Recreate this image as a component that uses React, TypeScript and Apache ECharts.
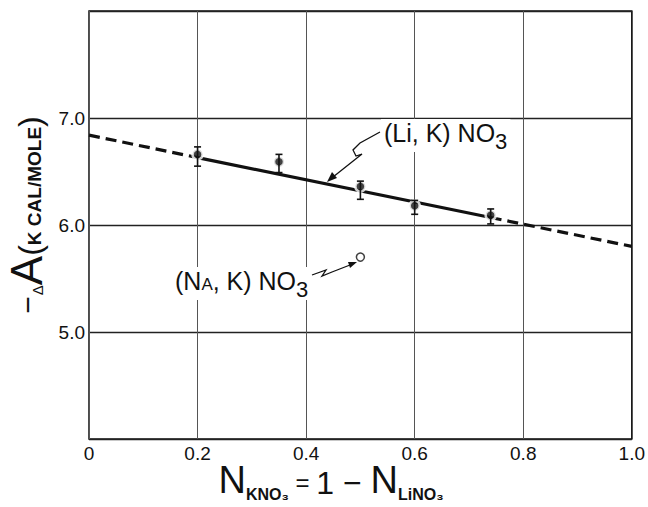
import React, { useEffect, useRef } from 'react';
import * as echarts from 'echarts';

// Tick labels
const xTickLabels = ['0', '0.2', '0.4', '0.6', '0.8', '1.0'];
const yTickLabels = ['', '5.0', '6.0', '7.0', ''];

// (Li, K) NO3 measured points with error bars
const liX = [0.2, 0.35, 0.5, 0.6, 0.74];
const liY = [6.66, 6.59, 6.36, 6.18, 6.09];
const liLow = [6.55, 6.49, 6.24, 6.1, 6.01];
const liHigh = [6.73, 6.66, 6.41, 6.23, 6.15];

// (Na, K) NO3 point
const naX = [0.5];
const naY = [5.7];

// Fitted straight line (dashed extrapolations, solid in measured range)
const fitDashLeftX = [0, 0.2];
const fitDashLeftY = [6.84, 6.63];
const fitSolidX = [0.2, 0.74];
const fitSolidY = [6.63, 6.07];
const fitDashRightX = [0.74, 1.0];
const fitDashRightY = [6.07, 5.8];

const FONT = '"Liberation Sans", Arial, sans-serif';
const INK = '#111';

export default function App() {
  const ref = useRef<HTMLDivElement>(null);

  useEffect(() => {
    const chart = echarts.init(ref.current!, undefined, { renderer: 'svg' });
    const pairs = (xs: number[], ys: number[]) => xs.map((x, i) => [x, ys[i]]);

    chart.setOption({
      animation: false,
      backgroundColor: '#fff',
      grid: {
        left: 89,
        top: 11,
        width: 544,
        height: 428,
        show: true,
        borderColor: INK,
        borderWidth: 1.5,
        backgroundColor: 'transparent',
      },
      xAxis: {
        type: 'value',
        min: 0,
        max: 1,
        interval: 0.2,
        axisLine: { show: false },
        axisTick: { show: false },
        axisLabel: {
          formatter: (v: number) => xTickLabels[Math.round(v / 0.2)] ?? '',
          fontSize: 19,
          color: INK,
          fontFamily: FONT,
          margin: 5,
        },
        splitLine: { show: true, lineStyle: { color: '#555', width: 1 } },
      },
      yAxis: {
        type: 'value',
        min: 4,
        max: 8,
        interval: 1,
        axisLine: { show: false },
        axisTick: { show: false },
        axisLabel: {
          formatter: (v: number) => yTickLabels[Math.round(v - 4)] ?? '',
          fontSize: 19,
          color: INK,
          fontFamily: FONT,
          margin: 4,
        },
        splitLine: { show: true, lineStyle: { color: '#222', width: 1.3 } },
      },
      series: [
        {
          type: 'line',
          data: pairs(fitDashLeftX, fitDashLeftY),
          symbol: 'none',
          lineStyle: { color: INK, width: 3.2, type: [11, 6] },
          z: 2,
        },
        {
          type: 'line',
          data: pairs(fitSolidX, fitSolidY),
          symbol: 'none',
          lineStyle: { color: INK, width: 3.2 },
          z: 2,
        },
        {
          type: 'line',
          data: pairs(fitDashRightX, fitDashRightY),
          symbol: 'none',
          lineStyle: { color: INK, width: 3.2, type: [11, 6] },
          z: 2,
        },
        {
          type: 'scatter',
          data: pairs(liX, liY),
          symbol: 'circle',
          symbolSize: 10,
          itemStyle: { color: INK, borderColor: '#fff', borderWidth: 2.5 },
          z: 4,
        },
        {
          type: 'custom',
          data: liX.map((x, i) => [x, liLow[i], liHigh[i]]),
          z: 5,
          renderItem: (params: any, api: any) => {
            const x = api.value(0);
            const lo = api.coord([x, api.value(1)]);
            const hi = api.coord([x, api.value(2)]);
            const w = 3.5;
            const st = { stroke: INK, lineWidth: 1.6 };
            return {
              type: 'group',
              children: [
                { type: 'line', shape: { x1: lo[0], y1: lo[1], x2: hi[0], y2: hi[1] }, style: st },
                { type: 'line', shape: { x1: lo[0] - w, y1: lo[1], x2: lo[0] + w, y2: lo[1] }, style: st },
                { type: 'line', shape: { x1: hi[0] - w, y1: hi[1], x2: hi[0] + w, y2: hi[1] }, style: st },
              ],
            };
          },
        },
        {
          type: 'scatter',
          data: pairs(naX, naY),
          symbol: 'circle',
          symbolSize: 8,
          itemStyle: { color: '#fff', borderColor: INK, borderWidth: 1.5 },
          z: 4,
        },
      ],
      graphic: [
        // (Li, K) NO3 label
        {
          type: 'text',
          x: 381,
          y: 119,
          z: 10,
          style: {
            text: '{a|(Li, K) NO}{b|3}',
            align: 'left',
            verticalAlign: 'top',
            backgroundColor: '#fff',
            padding: [1, 3, 0, 3],
            rich: {
              a: { fontSize: 25, fontFamily: FONT, fill: INK, padding: [0, 0, 7, 0], verticalAlign: 'bottom' },
              b: { fontSize: 22, fontFamily: FONT, fill: INK, verticalAlign: 'bottom' },
            },
          },
        },
        {
          type: 'polyline',
          z: 10,
          shape: { points: [[380, 132], [360, 143], [353, 150], [356, 156], [362, 154], [333, 177]] },
          style: { stroke: INK, lineWidth: 1.3, fill: 'none' },
        },
        {
          type: 'polygon',
          z: 10,
          shape: { points: [[327, 182], [337, 178], [332, 172]] },
          style: { fill: INK },
        },
        // (Na, K) NO3 label
        {
          type: 'text',
          x: 173,
          y: 267,
          z: 10,
          style: {
            text: '{a|(N}{s|A}{a|, K) NO}{b|3}',
            align: 'left',
            verticalAlign: 'top',
            backgroundColor: '#fff',
            padding: [1, 2, 0, 2],
            rich: {
              a: { fontSize: 25, fontFamily: FONT, fill: INK, padding: [0, 0, 7, 0], verticalAlign: 'bottom' },
              s: { fontSize: 17, fontFamily: FONT, fill: INK, padding: [0, 0, 7, 0], verticalAlign: 'bottom' },
              b: { fontSize: 22, fontFamily: FONT, fill: INK, verticalAlign: 'bottom' },
            },
          },
        },
        {
          type: 'polyline',
          z: 10,
          shape: { points: [[312, 275], [326, 270], [322, 276], [332, 272], [350, 265]] },
          style: { stroke: INK, lineWidth: 1.3, fill: 'none' },
        },
        {
          type: 'polygon',
          z: 10,
          shape: { points: [[357, 262], [348, 262], [350, 268]] },
          style: { fill: INK },
        },
        // y-axis title
        {
          type: 'text',
          x: 26,
          y: 215,
          rotation: Math.PI / 2,
          style: {
            text: '{m|−}{d|Δ}{a|A}{p|(}{k|K CAL/MOLE}{p|)}',
            align: 'center',
            verticalAlign: 'middle',
            rich: {
              m: { fontSize: 30, fontFamily: FONT, fill: INK, padding: [0, 1, 6, 0], verticalAlign: 'bottom' },
              d: { fontSize: 15, fontFamily: FONT, fill: INK, verticalAlign: 'bottom', padding: [0, 0, 3, 0] },
              a: { fontSize: 44, fontFamily: FONT, fill: INK, verticalAlign: 'bottom' },
              p: { fontSize: 32, fontFamily: FONT, fill: INK, verticalAlign: 'bottom', padding: [0, 0, 2, 0] },
              k: { fontSize: 19, fontFamily: FONT, fontWeight: 'bold', fill: INK, verticalAlign: 'bottom', padding: [0, 0, 4, 0] },
            },
          },
        },
        // x-axis title
        {
          type: 'text',
          x: 331,
          y: 502,
          style: {
            text: '{n|N}{s|KNO₃}{e| = }{o|1}{m| − }{n|N}{s|LiNO₃}',
            align: 'center',
            verticalAlign: 'bottom',
            rich: {
              n: { fontSize: 38, fontFamily: FONT, fill: INK, verticalAlign: 'bottom', padding: [0, 0, 3, 0] },
              s: { fontSize: 16, fontFamily: FONT, fontWeight: 'bold', fill: INK, verticalAlign: 'bottom' },
              e: { fontSize: 24, fontFamily: FONT, fill: INK, verticalAlign: 'bottom', padding: [0, 0, 8, 0] },
              o: { fontSize: 32, fontFamily: FONT, fill: INK, verticalAlign: 'bottom', padding: [0, 0, 3, 0] },
              m: { fontSize: 32, fontFamily: FONT, fill: INK, verticalAlign: 'bottom', padding: [0, 0, 3, 0] },
            },
          },
        },
      ],
    });

    return () => chart.dispose();
  }, []);

  return (
    <div
      ref={ref}
      style={{ position: 'absolute', left: 0, top: 0, width: 648, height: 507 }}
    />
  );
}
